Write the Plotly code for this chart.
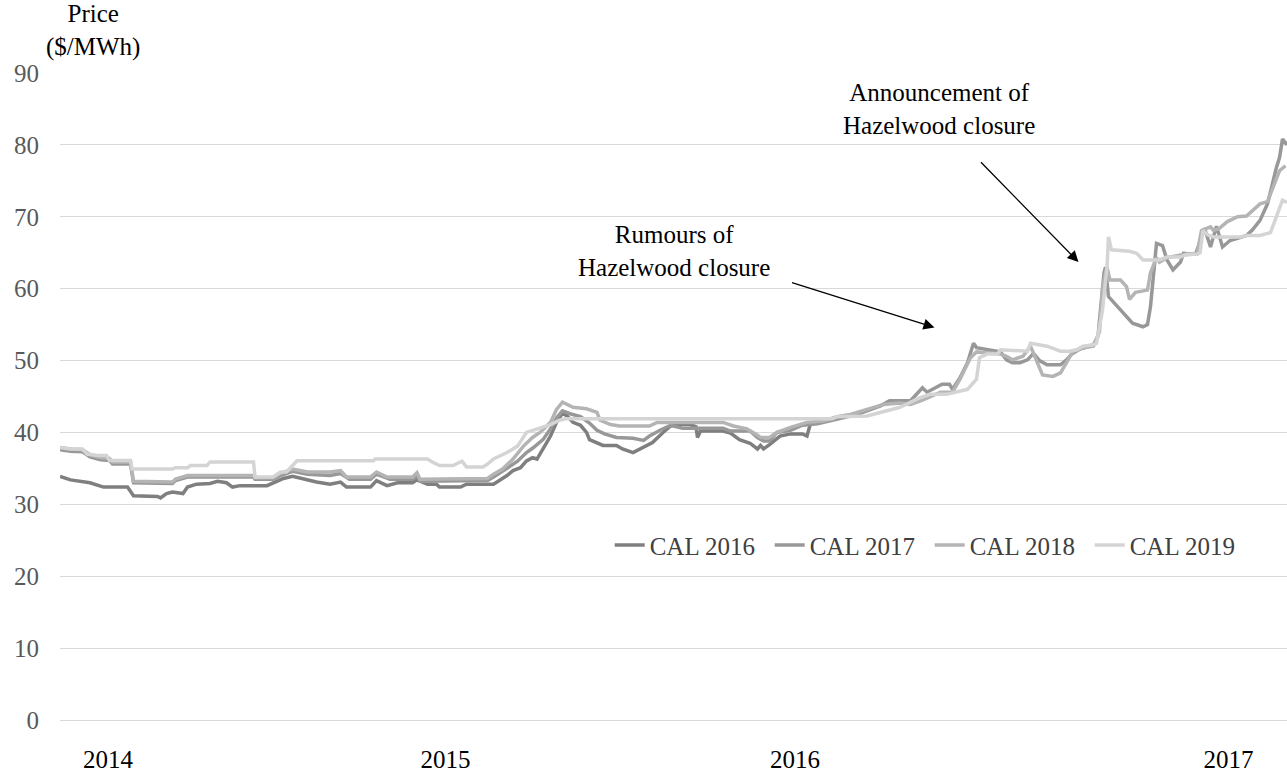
import plotly.graph_objects as go

# x = trading-day index; y = price ($/MWh)
day16 = [0,7,20,29,45,49,65,67,71,75,82,85,91,100,105,111,115,120,138,142,149,155,162,171,180,187,191,207,211,218,225,235,238,245,251,253,267,271,289,293,298,302,307,311,315,318,322,327,331,335,338,342,347,351,353,358,362,371,375,382,389,395,402,407,411,420,424,425,427,431,442,447,453,460,465,467,469,473,480,487,495,498,500]
cal16 = [33.9,33.4,33.0,32.4,32.4,31.2,31.1,30.9,31.5,31.7,31.5,32.4,32.8,32.9,33.2,33.0,32.4,32.6,32.6,33.0,33.6,33.9,33.5,33.1,32.8,33.1,32.4,32.4,33.3,32.6,33.0,33.0,33.4,32.8,32.8,32.4,32.4,32.8,32.8,33.3,34.0,34.7,35.1,36.05,36.5,36.3,37.7,39.5,41.4,42.7,42.3,41.4,41.0,40.0,39.0,38.5,38.2,38.2,37.7,37.2,37.9,38.6,40.0,40.9,41.1,41.1,40.8,39.3,40.2,40.2,40.2,39.9,39.0,38.5,37.7,38.2,37.7,38.3,39.5,39.8,39.8,39.5,41.0]

day17 = [0,7,15,20,27,33,35,47,49,75,77,85,129,130,142,147,155,165,180,187,193,207,211,220,235,238,240,267,271,285,289,293,298,305,311,315,322,327,331,335,340,347,353,358,363,371,382,389,393,400,407,415,442,447,460,465,469,473,478,487,495,505,518,531,538,547,553,560,567,575,578,588,593,595,600,605,609,611,620,627,631,635,640,645,649,653,658,667,671,675,680,689,692,693,695,696,697,699,705,711,715,722,725,727,729,731,735,738,742,747,749,757,760,763,767,771,775,780,785,791,795,800,805,808,811,813,815,818]
cal17 = [37.6,37.4,37.3,36.6,36.2,36.1,35.6,35.6,33.0,32.9,33.3,33.8,33.8,33.5,33.5,34.0,34.6,34.2,34.0,34.3,33.5,33.5,34.2,33.5,33.5,34.0,33.2,33.2,33.3,33.3,33.8,34.3,35.0,36.0,37.2,37.8,39.0,40.5,42.0,43.0,42.6,42.2,41.3,40.3,39.8,39.3,39.2,38.9,39.5,40.3,41.0,40.6,40.6,40.2,40.2,39.3,38.8,38.8,40.0,40.3,41.0,41.2,41.8,42.5,43.0,43.7,44.4,44.4,44.4,46.2,45.6,46.7,46.7,46.0,47.6,49.7,52.4,51.8,51.4,51.2,50.1,49.7,49.7,50.1,51.0,50.0,49.4,49.4,50.1,51.0,51.6,52.2,53.4,56.0,60.0,62.2,63.0,58.9,57.5,56.1,55.2,54.7,55.0,57.5,62.2,66.3,66.0,64.0,62.6,63.7,64.9,64.8,66.5,68.4,65.8,68.7,65.8,66.7,67.0,67.4,68.2,69.5,71.8,74.4,76.9,78.2,80.8,80.0]

day18 = [0,7,15,20,27,33,35,47,49,75,77,85,129,130,142,147,155,165,180,187,191,207,211,218,235,238,240,262,267,285,289,295,302,309,315,320,327,331,335,342,351,358,360,367,373,393,398,442,449,458,465,467,473,478,487,498,509,518,527,538,549,560,567,575,587,595,600,607,611,627,631,635,642,647,651,655,662,667,671,675,680,689,693,695,697,698,700,707,711,713,717,725,727,731,733,738,747,758,761,767,769,773,778,785,791,795,800,805,809,813,817]
cal18 = [37.9,37.7,37.6,36.9,36.5,36.4,35.9,35.9,33.2,33.1,33.5,34.0,34.0,33.7,33.7,34.3,34.9,34.5,34.5,34.7,33.8,33.8,34.5,33.8,33.8,34.4,33.5,33.5,33.6,33.6,34.2,34.9,36.3,38.1,39.3,40.0,41.4,43.2,44.2,43.5,43.3,42.8,41.7,41.1,40.9,40.9,41.4,41.4,40.9,40.5,39.6,39.3,39.3,40.0,40.7,41.4,41.6,42.2,42.5,43.2,43.9,44.1,43.9,44.5,45.6,45.6,47.4,50.4,51.2,50.9,50.6,50.1,50.6,52.0,50.1,48.0,47.8,48.3,49.7,51.2,51.7,52.0,54.0,60.0,62.2,63.0,61.2,61.2,60.3,58.5,59.5,59.8,62.2,64.3,63.7,64.3,64.7,64.8,68.1,68.6,68.1,68.4,69.3,70.0,70.1,70.9,71.8,72.1,74.4,76.4,77.1]

day19 = [0,7,15,18,25,31,33,47,48,75,77,85,87,98,100,129,130,142,147,151,158,209,210,245,249,253,262,268,271,282,285,289,298,305,311,320,327,333,337,515,518,538,549,560,573,580,591,600,605,611,613,618,625,627,645,647,653,658,667,673,678,682,689,691,693,695,698,699,701,709,713,718,722,733,738,747,751,758,760,762,765,769,787,791,800,807,811,815,818]
cal19 = [37.9,37.7,37.7,37.0,36.8,36.8,36.1,36.1,34.9,34.9,35.1,35.1,35.4,35.4,35.9,35.9,33.8,33.8,34.5,34.5,36.05,36.05,36.3,36.3,35.8,35.4,35.4,36.0,35.2,35.2,35.6,36.3,37.2,38.1,40.0,40.6,41.1,41.7,41.9,41.9,42.2,42.3,42.9,43.5,44.8,45.3,45.3,45.7,46.0,47.4,50.4,50.9,50.9,51.5,51.3,52.4,52.2,52.0,51.3,51.3,51.5,52.0,52.2,52.4,54.7,57.0,63.0,67.2,65.4,65.2,65.2,64.9,64.0,64.0,64.4,64.4,64.8,64.8,65.0,68.1,67.5,67.2,67.2,67.4,67.4,67.8,70.0,72.3,72.0]

series_names = ["CAL 2016", "CAL 2017", "CAL 2018", "CAL 2019"]
series_x = [day16, day17, day18, day19]
series_y = [cal16, cal17, cal18, cal19]
colors = ["#7f7f7f", "#989898", "#b4b4b4", "#d4d4d4"]

year_pos = [32, 257, 490, 779]
year_labels = ["2014", "2015", "2016", "2017"]

FONT = "Liberation Serif"
FS = 25

fig = go.Figure()
for name, xs, ys, c in zip(series_names, series_x, series_y, colors):
    fig.add_trace(go.Scatter(x=xs, y=ys, mode="lines", name=name,
                             line=dict(color=c, width=3.5)))

fig.update_layout(
    width=1287, height=773,
    margin=dict(l=60, r=0, t=73, b=47),
    paper_bgcolor="white", plot_bgcolor="white",
    font=dict(family=FONT, size=FS, color="#404040"),
    showlegend=True,
    legend=dict(orientation="h", x=0.448, y=0.27, xanchor="left", yanchor="middle",
                font=dict(family=FONT, size=25, color="#404040"),
                bgcolor="rgba(0,0,0,0)", itemwidth=30, tracegroupgap=0,
                entrywidth=115, entrywidthmode="pixels"),
    xaxis=dict(range=[0, 818], tickvals=year_pos, ticktext=year_labels,
               showgrid=False, zeroline=False, showline=False, ticks="",
               tickfont=dict(family=FONT, size=FS, color="#000000"),
               ticklabelstandoff=22),
    yaxis=dict(range=[0, 90], tickvals=list(range(0, 91, 10)),
               showgrid=True, gridcolor="#d9d9d9", gridwidth=1,
               zeroline=True, zerolinecolor="#d9d9d9", zerolinewidth=1,
               showline=False, ticks="",
               tickfont=dict(family=FONT, size=FS, color="#595959"),
               ticklabelstandoff=20),
)

ann_font = dict(family=FONT, size=FS, color="#000000")
fig.add_annotation(xref="paper", yref="paper", x=0.027, y=1.065,
                   text="Price<br>($/MWh)", showarrow=False, font=ann_font,
                   xanchor="center", yanchor="middle")
fig.add_annotation(x=409, y=65.2, text="Rumours of<br>Hazelwood closure",
                   showarrow=False, font=ann_font, xanchor="center", yanchor="middle")
fig.add_annotation(x=586, y=85.0, text="Announcement of<br>Hazelwood closure",
                   showarrow=False, font=ann_font, xanchor="center", yanchor="middle")
fig.add_annotation(x=583, y=54.6, ax=487, ay=60.9, axref="x", ayref="y",
                   text="", showarrow=True, arrowhead=2, arrowsize=1.7,
                   arrowwidth=1.3, arrowcolor="#000000")
fig.add_annotation(x=679, y=63.7, ax=613, ay=77.8, axref="x", ayref="y",
                   text="", showarrow=True, arrowhead=2, arrowsize=1.7,
                   arrowwidth=1.3, arrowcolor="#000000")

fig.write_html("out.html", config={"displayModeBar": False},
               post_script="document.body.style.margin='0';document.body.style.overflow='hidden';")
